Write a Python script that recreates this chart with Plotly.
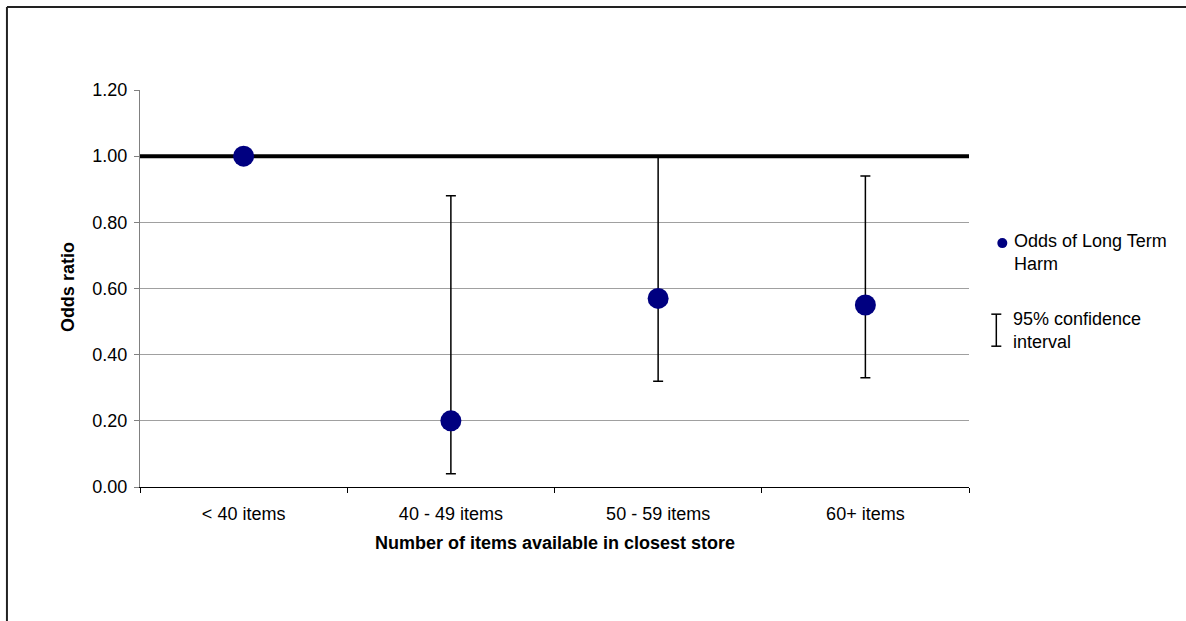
import plotly.graph_objects as go

# Odds ratios of long term harm by store size, with 95% confidence limits
categories = ["< 40 items", "40 - 49 items", "50 - 59 items", "60+ items"]
odds_ratio = [1.00, 0.20, 0.57, 0.55]
ci_upper = [1.00, 0.88, 1.00, 0.94]
ci_lower = [1.00, 0.04, 0.32, 0.33]
y_ticks = [0.0, 0.2, 0.4, 0.6, 0.8, 1.0, 1.2]
reference_level = 1.0

W, H = 1186, 621
L, R, T, B = 140, 968.7, 90, 486.7
FONT = "Liberation Sans, Arial, sans-serif"
FS = 18


def px(x):
    return (x - L) / (R - L)


def py(y):
    return (B - y) / (B - T)


# category slots on a numeric axis so the reference line can span the full width
x_pos = list(range(len(categories)))
x_edges = [i - 0.5 for i in range(len(categories) + 1)]

err_plus = [u - v for u, v in zip(ci_upper, odds_ratio)]
err_minus = [v - lo for v, lo in zip(odds_ratio, ci_lower)]

fig = go.Figure()
# reference line at odds ratio 1 (drawn before the points so they sit on top)
fig.add_trace(go.Scatter(
    x=[x_edges[0], x_edges[-1]],
    y=[reference_level, reference_level],
    mode="lines",
    line=dict(color="black", width=4),
    showlegend=False,
    hoverinfo="skip",
))
fig.add_trace(go.Scatter(
    x=x_pos,
    y=odds_ratio,
    mode="markers",
    marker=dict(size=21, color="#000080"),
    error_y=dict(type="data", symmetric=False, array=err_plus, arrayminus=err_minus,
                 color="black", thickness=1.5, width=5),
    customdata=categories,
    hovertemplate="%{customdata}: %{y:.2f}<extra></extra>",
    showlegend=False,
))

shapes = [
    # outer frame (top and left edges)
    dict(type="line", xref="paper", yref="paper", x0=px(7), x1=px(W + 5), y0=py(7), y1=py(7),
         line=dict(color="#222222", width=2)),
    dict(type="line", xref="paper", yref="paper", x0=px(7), x1=px(7), y0=py(7), y1=py(H + 5),
         line=dict(color="#222222", width=2)),
    # legend: marker symbol
    dict(type="circle", xref="paper", yref="paper", xsizemode="pixel", ysizemode="pixel",
         xanchor=px(1002), yanchor=py(243), x0=-5, x1=5, y0=-5, y1=5,
         fillcolor="#000080", line=dict(color="#000080", width=0)),
    # legend: confidence-interval symbol
    dict(type="line", xref="paper", yref="paper", x0=px(996), x1=px(996), y0=py(314), y1=py(346),
         line=dict(color="black", width=1.5)),
    dict(type="line", xref="paper", yref="paper", x0=px(991), x1=px(1001), y0=py(314), y1=py(314),
         line=dict(color="black", width=1.5)),
    dict(type="line", xref="paper", yref="paper", x0=px(991), x1=px(1001), y0=py(346), y1=py(346),
         line=dict(color="black", width=1.5)),
]

annotations = [
    dict(text="<b>Odds ratio</b>", xref="paper", yref="paper", x=px(68), y=py(287),
         textangle=-90, showarrow=False, xanchor="center", yanchor="middle",
         font=dict(family=FONT, size=FS, color="black")),
    dict(text="<b>Number of items available in closest store</b>", xref="paper", yref="paper",
         x=0.5, y=py(543), showarrow=False, xanchor="center", yanchor="middle",
         font=dict(family=FONT, size=FS, color="black")),
    dict(text="Odds of Long Term<br>Harm", xref="paper", yref="paper", x=px(1012), y=py(252),
         showarrow=False, xanchor="left", yanchor="middle", align="left",
         font=dict(family=FONT, size=FS, color="black")),
    dict(text="95% confidence<br>interval", xref="paper", yref="paper", x=px(1011), y=py(330),
         showarrow=False, xanchor="left", yanchor="middle", align="left",
         font=dict(family=FONT, size=FS, color="black")),
]

fig.update_layout(
    width=W, height=H,
    margin=dict(l=L, r=W - R, t=T, b=H - B, pad=0),
    paper_bgcolor="white", plot_bgcolor="white",
    font=dict(family=FONT, size=FS, color="black"),
    shapes=shapes,
    annotations=annotations,
    xaxis=dict(
        type="linear", range=[x_edges[0], x_edges[-1]],
        tickmode="array", tickvals=x_pos, ticktext=categories,
        ticks="", showgrid=False,
        minor=dict(tickmode="array", tickvals=x_edges, ticks="outside", ticklen=5,
                   tickcolor="black", tickwidth=1, showgrid=False),
        showline=True, linecolor="black", linewidth=1,
        zeroline=False, ticklabelstandoff=10, fixedrange=True,
    ),
    yaxis=dict(
        range=[0, 1.2], tickvals=y_ticks, tickformat=".2f",
        ticks="outside", ticklen=5, tickcolor="#808080", tickwidth=1,
        showgrid=True, gridcolor="#a0a0a0", gridwidth=1,
        showline=True, linecolor="#808080", linewidth=1,
        zeroline=False, ticklabelstandoff=3, fixedrange=True,
    ),
)

fig.write_html("out.html")
